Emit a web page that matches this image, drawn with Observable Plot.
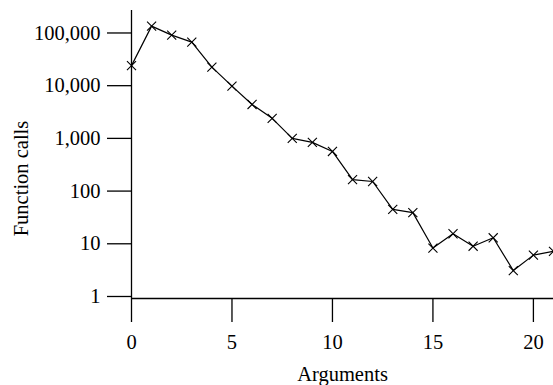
<!DOCTYPE html>
<html>
<head>
<meta charset="utf-8">
<script src="https://cdn.jsdelivr.net/npm/d3@7"></script>
<script src="https://cdn.jsdelivr.net/npm/@observablehq/plot@0.6"></script>
<style>
  html, body { margin: 0; padding: 0; background: #fff; }
  svg { display: block; }
</style>
</head>
<body>
<div id="chart"></div>
<script>
const args = [0, 1, 2, 3, 4, 5, 6, 7, 8, 9, 10, 11, 12, 13, 14, 15, 16, 17, 18, 19, 20, 21];
const calls = [24000, 135000, 91000, 67000, 22500, 9800, 4400, 2400, 1000, 840, 565, 165, 152, 45, 39, 8.3, 15.5, 9, 13, 3.1, 6.1, 7.2];
const xTicks = [0, 5, 10, 15, 20];
const yTicks = [1, 10, 100, 1000, 10000, 100000];
const xLabel = "Arguments";
const yLabel = "Function calls";

const data = args.map((a, i) => ({a, c: calls[i]}));
const yDomain = [0.916, 267000];
const font = "'Liberation Serif', 'Times New Roman', serif";

const chart = Plot.plot({
  width: 553,
  height: 385,
  marginLeft: 131,
  marginRight: 0,
  marginTop: 10,
  marginBottom: 87,
  style: {fontFamily: font, fontSize: "20px", color: "#000", background: "#fff"},
  x: {domain: [0, 21]},
  y: {type: "log", domain: yDomain},
  marks: [
    Plot.axisY({ticks: yTicks, tickSize: 24, tickPadding: 7, tickFormat: d3.format(","), label: null, fontSize: 20.5, stroke: "#000", strokeWidth: 1.3}),
    Plot.axisX({ticks: xTicks, tickSize: 24, tickPadding: 12, tickFormat: d => String(d), label: null, fontSize: 20.5, stroke: "#000", strokeWidth: 1.3}),
    Plot.ruleX([0], {stroke: "#000", strokeWidth: 1.3}),
    Plot.ruleY([yDomain[0]], {stroke: "#000", strokeWidth: 1.3}),
    Plot.line(data, {x: "a", y: "c", stroke: "#000", strokeWidth: 1.2}),
    Plot.dot(data, {x: "a", y: "c", symbol: "times", r: 4.2, stroke: "#000", strokeWidth: 1.1}),
    Plot.text([xLabel], {text: d => d, frameAnchor: "bottom", textAnchor: "middle", dy: 75.5, lineAnchor: "middle", fontSize: 20.5, fill: "#000"}),
    Plot.text([yLabel], {text: d => d, frameAnchor: "left", textAnchor: "middle", rotate: -90, dx: -110.5, dy: 24, lineAnchor: "middle", fontSize: 20.5, fill: "#000"})
  ]
});
document.getElementById("chart").appendChild(chart);
</script>
</body>
</html>
